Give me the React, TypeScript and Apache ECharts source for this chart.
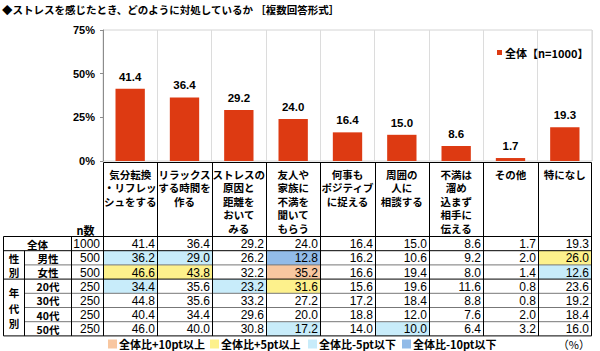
import React, { useEffect, useRef } from "react";
import * as echarts from "echarts";

const TITLE = "◆ストレスを感じたとき、どのように対処しているか ［複数回答形式］";
const SERIES_NAME = "全体【n=1000】";
const categories = [
  "気分転換\n・リフレッ\nシュをする",
  "リラックス\nする時間を\n作る",
  "ストレスの\n原因と\n距離を\nおいて\nみる",
  "友人や\n家族に\n不満を\n聞いて\nもらう",
  "何事も\nポジティブ\nに捉える",
  "周囲の\n人に\n相談する",
  "不満は\n溜め\n込まず\n相手に\n伝える",
  "その他",
  "特になし",
];
const overall = [41.4, 36.4, 29.2, 24.0, 16.4, 15.0, 8.6, 1.7, 19.3];
const male = [36.2, 29.0, 26.2, 12.8, 16.2, 10.6, 9.2, 2.0, 26.0];
const female = [46.6, 43.8, 32.2, 35.2, 16.6, 19.4, 8.0, 1.4, 12.6];
const age20 = [34.4, 35.6, 23.2, 31.6, 15.6, 19.6, 11.6, 0.8, 23.6];
const age30 = [44.8, 35.6, 33.2, 27.2, 17.2, 18.4, 8.8, 0.8, 19.2];
const age40 = [40.4, 34.4, 29.6, 20.0, 18.8, 12.0, 7.6, 2.0, 18.4];
const age50 = [46.0, 40.0, 30.8, 17.2, 14.0, 10.0, 6.4, 3.2, 16.0];
const rowLabels = ["全体", "男性", "女性", "20代", "30代", "40代", "50代"];
const rowN = [1000, 500, 500, 250, 250, 250, 250];
const groupLabels = ["性\n別", "年\n代\n別"];
const nHeader = "n数";
const yMax = 75;
const yInterval = 25;
const legendLabels = ["全体比+10pt以上", "全体比+5pt以上", "全体比-5pt以下", "全体比-10pt以下"];
const unitLabel = "（%）";

const JP = "'Noto Sans CJK JP', sans-serif";
const NUM = "'Liberation Sans', Arial, sans-serif";
const BAR = "#dd3a12";
const C_P10 = "#f8c7a0";
const C_P5 = "#fdf18c";
const C_M5 = "#c8ecfa";
const C_M10 = "#92bbe8";

function cellColor(v: number, base: number): string | null {
  const d = Math.round((v - base) * 10) / 10;
  if (d >= 10) return C_P10;
  if (d >= 5) return C_P5;
  if (d <= -10) return C_M10;
  if (d <= -5) return C_M5;
  return null;
}

function txt(x: number, y: number, text: string, font: string, align = "center", valign = "middle", extra: any = {}) {
  return {
    type: "text",
    x,
    y,
    silent: true,
    style: {
      text,
      font,
      fill: "#000",
      align,
      verticalAlign: valign,
      textAlign: align,
      textVerticalAlign: valign,
      ...extra,
    },
  };
}

function ln(x1: number, y1: number, x2: number, y2: number, stroke = "#000", w = 1) {
  return { type: "line", silent: true, shape: { x1, y1, x2, y2 }, style: { stroke, lineWidth: w } };
}

export default function App() {
  const ref = useRef<HTMLDivElement>(null);
  useEffect(() => {
    if (!ref.current) return;
    const chart = echarts.init(ref.current, null, { renderer: "svg" });
    chart.setOption({
      animation: false,
      title: {
        text: TITLE,
        left: 2,
        top: 4,
        padding: 0,
        textStyle: { fontFamily: JP, fontSize: 10.5, fontWeight: "bold", color: "#000" },
      },
      legend: {
        data: [SERIES_NAME],
        left: 497,
        top: 47,
        padding: 0,
        icon: "rect",
        itemWidth: 5,
        itemHeight: 5,
        itemGap: 4,
        textStyle: { fontFamily: JP, fontSize: 11, fontWeight: "bold", color: "#000", padding: [0, 0, 0, -2] },
      },
      grid: {
        left: 103,
        right: 8,
        top: 30,
        height: 131,
        show: true,
        borderColor: "#d4d4d4",
        borderWidth: 1,
      },
      xAxis: {
        type: "category",
        data: categories,
        axisLabel: { show: false },
        axisTick: { show: false },
        axisLine: { show: false },
        splitLine: { show: true, interval: 0, lineStyle: { color: "#dcdcdc", width: 1 } },
      },
      yAxis: {
        type: "value",
        min: 0,
        max: yMax,
        interval: yInterval,
        axisLabel: {
          formatter: "{value}%",
          fontFamily: NUM,
          fontSize: 11,
          fontWeight: "bold",
          color: "#000",
          margin: 8,
        },
        axisLine: { show: true, lineStyle: { color: "#8c8c8c" } },
        axisTick: { show: true, length: 3, lineStyle: { color: "#8c8c8c" } },
        splitLine: { show: false },
      },
      series: [
        {
          name: SERIES_NAME,
          type: "bar",
          data: overall,
          barWidth: "54%",
          itemStyle: { color: BAR },
          label: {
            show: true,
            position: "top",
            distance: 6,
            formatter: (p: any) => p.value.toFixed(1),
            fontFamily: NUM,
            fontSize: 11.5,
            fontWeight: "bold",
            color: "#000",
          },
        },
      ],
    });

    // Table geometry derived from the chart's category axis
    const p0 = chart.convertToPixel({ seriesIndex: 0 }, [0, 0]) as number[];
    const p1 = chart.convertToPixel({ seriesIndex: 0 }, [1, 0]) as number[];
    const bw = p1[0] - p0[0];
    const centers = categories.map((_, i) => (chart.convertToPixel({ seriesIndex: 0 }, [i, 0]) as number[])[0]);
    const tableLeft = Math.round(centers[0] - bw / 2) + 0.5;
    const tableRight = Math.round(centers[centers.length - 1] + bw / 2) - 0.5;
    const colEdges = categories.map((_, i) => Math.round(centers[i] - bw / 2) + 0.5);
    colEdges[0] = tableLeft;
    const colRight = (i: number) => (i < categories.length - 1 ? colEdges[i + 1] : tableRight);

    const headTop = 162.5;
    const headBottom = 236.5;
    const rowH = 14.2;
    const rowsData = [overall, male, female, age20, age30, age40, age50];
    const tblBottom = headBottom + rowH * rowsData.length;
    const xOuter = 3.5;
    const xGroup = 24.5;
    const xN = 71.5;
    const rowY = (i: number) => headBottom + rowH * i;

    const g: any[] = [];
    // cell fills
    rowsData.forEach((row, r) => {
      if (r === 0) return;
      row.forEach((v, c) => {
        const col = cellColor(v, overall[c]);
        if (col) {
          g.push({
            type: "rect",
            silent: true,
            shape: { x: colEdges[c], y: rowY(r), width: colRight(c) - colEdges[c], height: rowH },
            style: { fill: col },
          });
        }
      });
    });
    // header texts
    categories.forEach((cat, i) => {
      g.push(txt(centers[i], 167.5, cat, `bold 10.5px ${JP}`, "center", "top", { lineHeight: 13.5 }));
    });
    g.push(txt((xN + tableLeft) / 2 - 2, 229.5, nHeader, `bold 11px ${JP}`, "center", "middle", { lineHeight: 12 }));
    // rows
    rowsData.forEach((row, r) => {
      const cy = rowY(r) + rowH / 2 + 0.5;
      const lx = r === 0 ? (xOuter + xN) / 2 : (xGroup + xN) / 2;
      g.push(txt(lx, cy, rowLabels[r], `bold 10.5px ${JP}`, "center", "middle", { lineHeight: 12 }));
      g.push(txt(tableLeft - 3.5, cy, String(rowN[r]), `12px ${NUM}`, "right", "middle", { lineHeight: 12 }));
      row.forEach((v, c) => {
        g.push(txt(colRight(c) - 2.5, cy, v.toFixed(1), `12px ${NUM}`, "right", "middle", { lineHeight: 12 }));
      });
    });
    // group labels
    const g1c = (rowY(1) + rowY(3)) / 2 + 0.5;
    g.push(txt((xOuter + xGroup) / 2, g1c, groupLabels[0], `bold 10.5px ${JP}`, "center", "middle", { lineHeight: 13.5 }));
    const g2c = (rowY(3) + rowY(7)) / 2 + 0.5;
    g.push(txt((xOuter + xGroup) / 2, g2c, groupLabels[1], `bold 10.5px ${JP}`, "center", "middle", { lineHeight: 15.5 }));

    // horizontal lines
    g.push(ln(tableLeft, headTop, tableRight, headTop));
    g.push(ln(xOuter, headBottom, tableRight, headBottom));
    g.push(ln(xOuter, rowY(1), tableRight, rowY(1)));
    g.push(ln(xGroup, rowY(2), tableRight, rowY(2), "#777"));
    g.push(ln(xOuter, rowY(3), tableRight, rowY(3)));
    g.push(ln(xGroup, rowY(4), tableRight, rowY(4), "#777"));
    g.push(ln(xGroup, rowY(5), tableRight, rowY(5), "#777"));
    g.push(ln(xGroup, rowY(6), tableRight, rowY(6), "#777"));
    g.push(ln(xOuter, tblBottom, tableRight, tblBottom));
    // vertical lines
    g.push(ln(xOuter, headBottom, xOuter, tblBottom));
    g.push(ln(xGroup, rowY(1), xGroup, tblBottom));
    g.push(ln(xN, headBottom, xN, tblBottom));
    colEdges.forEach((x) => g.push(ln(x, headTop, x, tblBottom)));
    g.push(ln(tableRight, headTop, tableRight, tblBottom));

    // footer legend
    const legendCols = [C_P10, C_P5, C_M5, C_M10];
    const legendX = [108, 210, 308, 402];
    const fy = 344;
    legendLabels.forEach((lab, i) => {
      g.push({
        type: "rect",
        silent: true,
        shape: { x: legendX[i], y: fy - 4.5, width: 9, height: 9 },
        style: { fill: legendCols[i] },
      });
      g.push(txt(legendX[i] + 11, fy, lab, `bold 11px ${JP}`, "left"));
    });
    g.push(txt(590, fy, unitLabel, `11px ${JP}`, "right"));

    chart.setOption({ graphic: g });
    return () => chart.dispose();
  }, []);
  return <div ref={ref} style={{ position: "absolute", left: 0, top: 0, width: 600, height: 351 }} />;
}
